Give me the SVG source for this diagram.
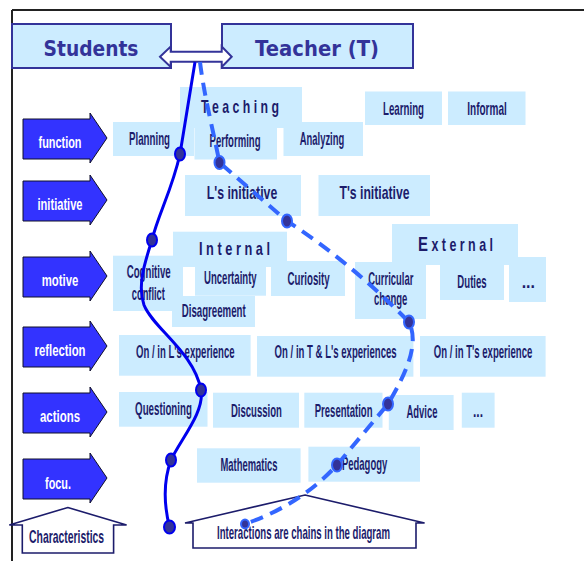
<svg xmlns="http://www.w3.org/2000/svg" width="584" height="561" viewBox="0 0 584 561">
<style>
.bx{fill:#CCECFF;stroke:none}
.t{font-family:"Liberation Sans Narrow","Liberation Sans",Arial,sans-serif;font-weight:bold;font-size:17.5px;fill:#1c1c6b;text-anchor:middle}
.w{font-family:"Liberation Sans Narrow","Liberation Sans",Arial,sans-serif;font-weight:bold;font-size:16.5px;fill:#ffffff;text-anchor:middle}
.h{font-family:"DejaVu Sans",Verdana,sans-serif;font-weight:bold;font-size:21px;fill:#333399;text-anchor:middle}
.hb{fill:#CCECFF;stroke:#333399;stroke-width:2}
.ar{fill:#3333FF;stroke:#10102a;stroke-width:1}
.up{fill:#ffffff;stroke:#1c1c6b;stroke-width:1.6}
.sol{fill:none;stroke:#0000EE;stroke-width:3}
.dsh{fill:none;stroke:#3366FF;stroke-width:4;stroke-dasharray:13 8}
.cs{fill:#333399;stroke:#0000EE;stroke-width:2}
.cd{fill:#333399;stroke:#3366FF;stroke-width:2}
</style>
<defs>
<path id="rowArrow" d="M23,6 L90,6 L90,0 L107,25 L90,50 L90,46 L23,46 Z"/>
</defs>
<rect width="584" height="561" fill="#ffffff"/>
<g id="frame">
<line x1="12" y1="10" x2="584" y2="10" stroke="#222222" stroke-width="2"/>
<line x1="12" y1="10" x2="12" y2="561" stroke="#222222" stroke-width="2"/>
</g>
<g id="students"><rect class="hb" x="12" y="24" width="159" height="44"/><text class="h" transform="translate(91,0) scale(0.89,1)" y="56" textLength="106.7" lengthAdjust="spacingAndGlyphs">Students</text></g>
<g id="teacher"><rect class="hb" x="222" y="24" width="191" height="44"/><text class="h" transform="translate(317,0) scale(0.89,1)" y="56" textLength="139.3" lengthAdjust="spacingAndGlyphs">Teacher (T)</text></g>
<g id="exchange"><path d="M160,56.7 L170.7,46.5 L170.7,51.7 L221.7,51.7 L221.7,46.5 L231.7,56.7 L221.7,67 L221.7,61.7 L170.7,61.7 L170.7,67 Z" fill="#ffffff" stroke="#333399" stroke-width="2"/></g>

<g id="row-function"><use href="#rowArrow" class="ar" transform="translate(0,113)"/><text class="w" transform="translate(60,0) scale(0.67,1)" y="148" textLength="64.2" lengthAdjust="spacingAndGlyphs">function</text></g>
<g id="row-initiative"><use href="#rowArrow" class="ar" transform="translate(0,175)"/><text class="w" transform="translate(60,0) scale(0.67,1)" y="210" textLength="67.2" lengthAdjust="spacingAndGlyphs">initiative</text></g>
<g id="row-motive"><use href="#rowArrow" class="ar" transform="translate(0,251)"/><text class="w" transform="translate(60,0) scale(0.67,1)" y="286" textLength="54.5" lengthAdjust="spacingAndGlyphs">motive</text></g>
<g id="row-reflection"><use href="#rowArrow" class="ar" transform="translate(0,321)"/><text class="w" transform="translate(60,0) scale(0.67,1)" y="356.5" textLength="76.1" lengthAdjust="spacingAndGlyphs">reflection</text></g>
<g id="row-actions"><use href="#rowArrow" class="ar" transform="translate(0,387)"/><text class="w" transform="translate(60,0) scale(0.67,1)" y="422" textLength="59.7" lengthAdjust="spacingAndGlyphs">actions</text></g>
<g id="row-focus"><use href="#rowArrow" class="ar" transform="translate(0,453)"/><text class="w" transform="translate(58,0) scale(0.67,1)" y="489" textLength="38.8" lengthAdjust="spacingAndGlyphs">focu.</text></g>

<g id="teaching"><rect class="bx" x="180" y="87" width="122" height="41"/><text class="t" transform="translate(240,0) scale(0.55,1)" y="113" textLength="141.8" lengthAdjust="spacingAndGlyphs">T e a c h i n g</text></g>
<g id="learning"><rect class="bx" x="365" y="91.5" width="77" height="33.5"/><text class="t" transform="translate(403.5,0) scale(0.55,1)" y="115" textLength="74.5" lengthAdjust="spacingAndGlyphs">Learning</text></g>
<g id="informal"><rect class="bx" x="448" y="91.5" width="77.5" height="33.5"/><text class="t" transform="translate(487,0) scale(0.55,1)" y="115" textLength="71.8" lengthAdjust="spacingAndGlyphs">Informal</text></g>
<g id="planning"><rect class="bx" x="113" y="122" width="81" height="34"/><text class="t" transform="translate(149.5,0) scale(0.55,1)" y="145" textLength="74.5" lengthAdjust="spacingAndGlyphs">Planning</text></g>
<g id="performing"><rect class="bx" x="194.5" y="128" width="82.5" height="31.5"/><text class="t" transform="translate(235,0) scale(0.55,1)" y="147" textLength="92.7" lengthAdjust="spacingAndGlyphs">Performing</text></g>
<g id="analyzing"><rect class="bx" x="283.5" y="122" width="79.5" height="34"/><text class="t" transform="translate(322,0) scale(0.55,1)" y="145" textLength="80.9" lengthAdjust="spacingAndGlyphs">Analyzing</text></g>

<g id="ls-initiative"><rect class="bx" x="185" y="175" width="116" height="41"/><text class="t" transform="translate(242,0) scale(0.55,1)" y="199.5" textLength="128.2" lengthAdjust="spacingAndGlyphs">L's initiative</text></g>
<g id="ts-initiative"><rect class="bx" x="318.5" y="175" width="111.5" height="41"/><text class="t" transform="translate(374.5,0) scale(0.55,1)" y="199.5" textLength="127.3" lengthAdjust="spacingAndGlyphs">T's initiative</text></g>

<g id="cognitive-conflict"><rect class="bx" x="113" y="255.7" width="70" height="55.3"/><text class="t" transform="translate(148.7,0) scale(0.55,1)" y="278" textLength="80" lengthAdjust="spacingAndGlyphs">Cognitive</text><text class="t" transform="translate(148.3,0) scale(0.55,1)" y="300" textLength="60" lengthAdjust="spacingAndGlyphs">conflict</text></g>
<g id="internal"><rect class="bx" x="173" y="231.7" width="114" height="35.3"/><text class="t" transform="translate(234.5,0) scale(0.55,1)" y="255" textLength="129.1" lengthAdjust="spacingAndGlyphs">I n t e r n a l</text></g>
<g id="uncertainty"><rect class="bx" x="195" y="258" width="71" height="37.7"/><text class="t" transform="translate(230.3,0) scale(0.55,1)" y="284" textLength="95.8" lengthAdjust="spacingAndGlyphs">Uncertainty</text></g>
<g id="curiosity"><rect class="bx" x="271" y="261" width="74" height="35"/><text class="t" transform="translate(308.6,0) scale(0.55,1)" y="285" textLength="76.4" lengthAdjust="spacingAndGlyphs">Curiosity</text></g>
<g id="disagreement"><rect class="bx" x="172" y="296" width="83" height="31"/><text class="t" transform="translate(213.7,0) scale(0.55,1)" y="317.3" textLength="116.4" lengthAdjust="spacingAndGlyphs">Disagreement</text></g>
<g id="external"><rect class="bx" x="392" y="224" width="126" height="41"/><text class="t" transform="translate(455.5,0) scale(0.55,1)" y="250.7" textLength="136.4" lengthAdjust="spacingAndGlyphs"><tspan font-size="21">E</tspan> x t e r n a l</text></g>
<g id="curricular-change"><rect class="bx" x="355" y="262" width="71" height="57"/><text class="t" transform="translate(390.8,0) scale(0.55,1)" y="285.5" textLength="81.8" lengthAdjust="spacingAndGlyphs">Curricular</text><text class="t" transform="translate(390.7,0) scale(0.55,1)" y="305" textLength="60.5" lengthAdjust="spacingAndGlyphs">change</text></g>
<g id="duties"><rect class="bx" x="440" y="265" width="64" height="35"/><text class="t" transform="translate(472,0) scale(0.55,1)" y="288" textLength="53.3" lengthAdjust="spacingAndGlyphs">Duties</text></g>
<g id="motive-more"><rect class="bx" x="509" y="257" width="37" height="45"/><text class="t" transform="translate(528.3,0) scale(0.55,1)" y="288.5" textLength="24.2" lengthAdjust="spacingAndGlyphs">...</text></g>

<g id="on-ls-experience"><rect class="bx" x="119" y="335" width="131.6" height="40.7"/><text class="t" transform="translate(185.3,0) scale(0.55,1)" y="358.3" textLength="179.3" lengthAdjust="spacingAndGlyphs">On / in L's experience</text></g>
<g id="on-tls-experiences"><rect class="bx" x="257" y="336" width="156.4" height="40.7"/><text class="t" transform="translate(335.6,0) scale(0.55,1)" y="358.3" textLength="221.8" lengthAdjust="spacingAndGlyphs">On / in T &amp; L's experiences</text></g>
<g id="on-ts-experience"><rect class="bx" x="420" y="336" width="125.6" height="40.7"/><text class="t" transform="translate(483,0) scale(0.55,1)" y="358.3" textLength="179.3" lengthAdjust="spacingAndGlyphs">On / in T's experience</text></g>

<g id="questioning"><rect class="bx" x="119" y="392" width="88.5" height="34.7"/><text class="t" transform="translate(163.5,0) scale(0.55,1)" y="415" textLength="103.3" lengthAdjust="spacingAndGlyphs">Questioning</text></g>
<g id="discussion"><rect class="bx" x="213" y="392.7" width="86" height="35"/><text class="t" transform="translate(256.4,0) scale(0.55,1)" y="416.7" textLength="92.7" lengthAdjust="spacingAndGlyphs">Discussion</text></g>
<g id="presentation"><rect class="bx" x="304.3" y="392.7" width="78.2" height="35"/><text class="t" transform="translate(343.6,0) scale(0.55,1)" y="416.7" textLength="104.9" lengthAdjust="spacingAndGlyphs">Presentation</text></g>
<g id="advice"><rect class="bx" x="388.8" y="395" width="64.8" height="35"/><text class="t" transform="translate(422,0) scale(0.55,1)" y="418.3" textLength="56.4" lengthAdjust="spacingAndGlyphs">Advice</text></g>
<g id="actions-more"><rect class="bx" x="461.8" y="392.7" width="32.8" height="35"/><text class="t" transform="translate(478,0) scale(0.55,1)" y="417.3" font-size="11" textLength="18.2" lengthAdjust="spacingAndGlyphs">...</text></g>

<g id="mathematics"><rect class="bx" x="197" y="448.3" width="103.6" height="34.4"/><text class="t" transform="translate(249,0) scale(0.55,1)" y="471" textLength="103.6" lengthAdjust="spacingAndGlyphs">Mathematics</text></g>
<g id="pedagogy"><rect class="bx" x="308.4" y="446.7" width="111.6" height="35"/><text class="t" transform="translate(364.6,0) scale(0.55,1)" y="470" textLength="82.4" lengthAdjust="spacingAndGlyphs">Pedagogy</text></g>

<g id="characteristics"><path class="up" d="M67.8,507.5 L126.6,525 L113.6,525 L113.6,553 L22.3,553 L22.3,525 L9.3,525 Z"/><text class="t" transform="translate(66.6,0) scale(0.55,1)" y="543" textLength="136.4" lengthAdjust="spacingAndGlyphs">Characteristics</text></g>
<g id="interactions"><path class="up" d="M305,495 L424.6,523 L416,523 L416,548 L193,548 L193,523 L185,523 Z"/><text class="t" transform="translate(303.5,0) scale(0.55,1)" y="539" textLength="314.5" lengthAdjust="spacingAndGlyphs">Interactions are chains in the diagram</text></g>

<g id="connectors">
<path class="sol" d="M195,62 L180,154 C172,190 158,215 152,240 C145,262 137,285 144,305 C153,328 194,352 201,390 C205,412 180,440 171,460 C163,482 164,505 169.5,527"/>
<path class="dsh" d="M200,62 C204,95 213,130 219.5,162.5 L287,221 Q350,262 409,322 C420,345 405,375 388,404 L337,465 Q300,505 245,524"/>
<ellipse class="cs" cx="180" cy="154" rx="5" ry="6.5"/>
<ellipse class="cs" cx="152" cy="240" rx="5" ry="6.5"/>
<ellipse class="cs" cx="201" cy="390" rx="5" ry="6.5"/>
<ellipse class="cs" cx="171" cy="460" rx="5" ry="6.5"/>
<ellipse class="cs" cx="169.5" cy="527" rx="5.5" ry="6.5"/>
<ellipse class="cd" cx="219.5" cy="162.5" rx="5" ry="6.5"/>
<ellipse class="cd" cx="287" cy="221" rx="5" ry="6.5"/>
<ellipse class="cd" cx="409" cy="322" rx="5" ry="6.5"/>
<ellipse class="cd" cx="388" cy="404" rx="5" ry="6.5"/>
<ellipse class="cd" cx="337" cy="465" rx="5" ry="6.5"/>
<ellipse class="cd" cx="245" cy="524" rx="4" ry="4.5"/>
</g>
</svg>
